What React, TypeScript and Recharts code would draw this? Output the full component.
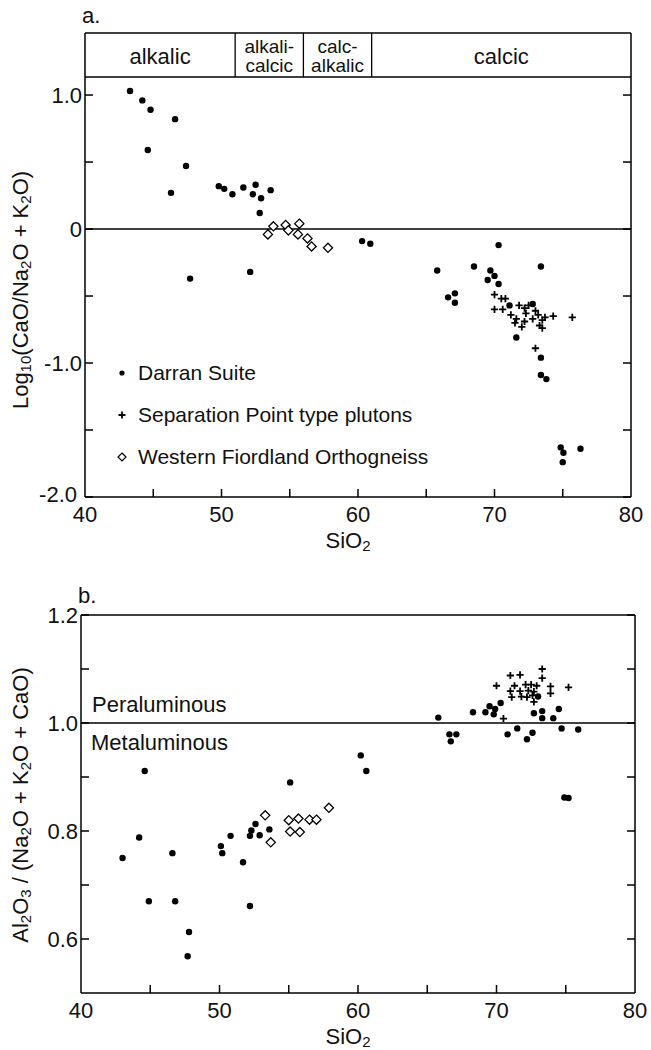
import React from 'react';
import { ScatterChart, Scatter, XAxis, YAxis, ReferenceLine, ReferenceArea, Legend } from 'recharts';

const FONT = '"Liberation Sans", Arial, Helvetica, sans-serif';

// panel a: SiO2 vs Log10(CaO/Na2O + K2O)
const darranA: [number, number][] = [
  [43.3, 1.03], [44.2, 0.96], [44.8, 0.89], [46.6, 0.82], [44.6, 0.59], [47.4, 0.47],
  [46.3, 0.27], [49.8, 0.32], [50.2, 0.3], [50.8, 0.26], [51.6, 0.31], [52.5, 0.33],
  [52.3, 0.26], [52.9, 0.23], [53.6, 0.29], [52.8, 0.12], [47.7, -0.37], [52.1, -0.32],
  [60.3, -0.09], [60.9, -0.11], [65.8, -0.31], [68.5, -0.28], [66.6, -0.51], [67.1, -0.48],
  [67.1, -0.55], [69.7, -0.31], [70.0, -0.35], [69.5, -0.38], [70.3, -0.41], [70.3, -0.12],
  [73.4, -0.28], [71.1, -0.57], [72.8, -0.56], [71.6, -0.81], [73.4, -0.96], [73.4, -1.09],
  [73.8, -1.12], [74.85, -1.63], [75.05, -1.67], [75.0, -1.74], [76.3, -1.64],
];
const sepPointA: [number, number][] = [
  [70.0, -0.49], [70.5, -0.52], [70.8, -0.52], [70.0, -0.6], [70.6, -0.6], [71.8, -0.57],
  [72.2, -0.59], [72.5, -0.57], [71.2, -0.64], [71.6, -0.67], [71.5, -0.7], [72.0, -0.73],
  [72.3, -0.63], [72.8, -0.67], [73.0, -0.61], [73.2, -0.64], [73.5, -0.68], [73.7, -0.66],
  [73.3, -0.72], [73.5, -0.74], [74.3, -0.65], [75.7, -0.66], [73.0, -0.89], [72.2, -0.69],
];
const wfoA: [number, number][] = [
  [53.4, -0.04], [53.8, 0.02], [54.7, 0.03], [54.9, -0.01], [55.7, 0.04], [55.6, -0.04],
  [56.3, -0.07], [56.6, -0.13], [57.8, -0.14],
];

// panel b: SiO2 vs Al2O3 / (Na2O + K2O + CaO)
const darranB: [number, number][] = [
  [44.6, 0.911], [43.0, 0.75], [44.2, 0.788], [44.9, 0.67], [46.6, 0.759], [46.8, 0.67],
  [47.8, 0.613], [47.7, 0.568], [50.1, 0.772], [50.2, 0.759], [50.8, 0.791], [51.7, 0.742],
  [52.2, 0.791], [52.3, 0.801], [52.6, 0.813], [52.9, 0.792], [53.6, 0.803], [52.2, 0.661],
  [55.1, 0.89], [60.2, 0.94], [60.6, 0.911], [65.8, 1.01], [66.6, 0.979], [67.1, 0.979],
  [66.7, 0.966], [68.3, 1.02], [69.2, 1.02], [69.5, 1.031], [69.8, 1.016], [69.9, 1.026],
  [70.3, 1.037], [72.7, 1.018], [73.3, 1.022], [73.3, 1.009], [74.1, 1.009], [74.5, 1.026],
  [73.0, 1.049], [70.8, 0.979], [71.5, 0.99], [72.2, 0.97], [72.6, 0.982], [74.7, 0.99],
  [75.9, 0.988], [74.9, 0.862], [75.2, 0.861],
];
const sepPointB: [number, number][] = [
  [73.3, 1.1], [73.3, 1.083], [71.0, 1.088], [71.7, 1.089], [70.0, 1.069], [71.3, 1.069],
  [71.0, 1.059], [71.1, 1.048], [71.7, 1.059], [71.8, 1.049], [72.1, 1.071], [72.3, 1.06],
  [72.5, 1.071], [72.2, 1.048], [72.6, 1.051], [72.9, 1.069], [72.7, 1.058], [72.7, 1.039],
  [73.9, 1.068], [73.9, 1.055], [75.2, 1.066], [70.5, 1.008],
];
const wfoB: [number, number][] = [
  [53.3, 0.829], [53.7, 0.779], [55.0, 0.82], [55.1, 0.799], [55.7, 0.823], [55.8, 0.798],
  [56.5, 0.821], [57.0, 0.821], [57.9, 0.843],
];

const xTicks = [40, 45, 50, 55, 60, 65, 70, 75, 80];
const xLabels = [40, 50, 60, 70, 80];
const yTicksA = [-2, -1.5, -1, -0.5, 0, 0.5, 1];
const yLabelsA = [-2, -1, 0, 1];
const yTicksB = [0.6, 0.7, 0.8, 0.9, 1.0, 1.1, 1.2];
const yLabelsB = [0.6, 0.8, 1.0, 1.2];

// Peacock alkali-lime index fields (SiO2 boundaries)
const peacockFields = [
  { lines: ['alkalic'], from: 40, to: 51 },
  { lines: ['alkali-', 'calcic'], from: 51, to: 56 },
  { lines: ['calc-', 'alkalic'], from: 56, to: 61 },
  { lines: ['calcic'], from: 61, to: 80 },
];
const boxBottom = 1.134;
const yTopA = 1.463;

// axis titles, "_" marks a subscript piece
const titleA = ['Log', '_10', '(CaO/Na', '_2', 'O + K', '_2', 'O)'];
const titleB = ['Al', '_2', 'O', '_3', ' / (Na', '_2', 'O + K', '_2', 'O + CaO)'];
const titleX = ['SiO', '_2'];

const toPts = (arr: [number, number][]) => arr.map(([x, y]) => ({ x, y }));

const Dot = (p: any) => <circle cx={p.cx} cy={p.cy} r={3.2} fill="#000" />;
const Plus = (p: any) => (
  <path d={`M${p.cx - 3.6},${p.cy}h7.2M${p.cx},${p.cy - 3.6}v7.2`} stroke="#000" strokeWidth={1.8} />
);
const Diamond = (p: any) => (
  <path d={`M${p.cx},${p.cy - 4.6}l4.6,4.6l-4.6,4.6l-4.6,-4.6z`} fill="#fff" stroke="#000" strokeWidth={1.3} />
);

const txt = { fontFamily: FONT, fontSize: 22, fill: '#111' };
const fmt = (v: number) => (v === 0 ? '0' : v.toFixed(1));
const has = (list: number[], v: number) => list.some((l) => Math.abs(l - v) < 1e-6);

// turns the pieces into tspans, lowering the subscripts and raising the text after them
const rich = (parts: string[]) => {
  let low = false;
  return parts.map((s, i) => {
    const isSub = s.startsWith('_');
    const dy = isSub && !low ? 5 : !isSub && low ? -5 : 0;
    low = isSub;
    return (
      <tspan key={i} dy={dy} fontSize={isSub ? 15 : undefined}>
        {isSub ? s.slice(1) : s}
      </tspan>
    );
  });
};

const leftTick = (labels: number[], bottom: number) => (p: any) => {
  const v = p.payload.value;
  // the lowest label sits a little up and left of the corner, clear of the x label
  const corner = Math.abs(v - bottom) < 1e-6;
  return (
    <g>
      <line x1={p.x} x2={p.x + 8} y1={p.y} y2={p.y} stroke="#000" strokeWidth={1.5} />
      {has(labels, v) && (
        <text
          x={p.x - (corner ? 8 : 3)} y={p.y - (corner ? 3 : 0)}
          textAnchor="end" dominantBaseline="central" {...txt}
        >
          {fmt(v)}
        </text>
      )}
    </g>
  );
};
const rightTick = (p: any) => (
  <line x1={p.x - 8} x2={p.x} y1={p.y} y2={p.y} stroke="#000" strokeWidth={1.5} />
);
const bottomTick = (p: any) => {
  const v = p.payload.value;
  return (
    <g>
      {!has([40, 80], v) && <line x1={p.x} x2={p.x} y1={p.y - 8} y2={p.y} stroke="#000" strokeWidth={1.5} />}
      {has(xLabels, v) && (
        <text x={p.x} y={p.y + 17} textAnchor="middle" dominantBaseline="central" {...txt}>
          {v}
        </text>
      )}
    </g>
  );
};
const topTick = (p: any) =>
  has([40, 80], p.payload.value) ? <g /> : (
    <line x1={p.x} x2={p.x} y1={p.y} y2={p.y + 8} stroke="#000" strokeWidth={1.5} />
  );

const xTitle = (p: any) => {
  const vb = p.viewBox;
  return (
    <text x={vb.x + vb.width / 2 - 10} y={vb.y + 43} textAnchor="middle" dominantBaseline="central" {...txt}>
      {rich(titleX)}
    </text>
  );
};

const yTitle = (parts: string[], dx: number, y: number) => (p: any) => {
  const x = p.viewBox.x + dx;
  return (
    <text x={x} y={y} transform={`rotate(-90 ${x} ${y})`} textAnchor="middle" dominantBaseline="central" {...txt}>
      {rich(parts)}
    </text>
  );
};

const catLabel = (lines: string[]) => (p: any) => {
  const vb = p.viewBox;
  const cx = vb.x + vb.width / 2;
  const cy = vb.y + vb.height / 2;
  if (lines.length === 1) {
    return (
      <text x={cx} y={cy + 1} textAnchor="middle" dominantBaseline="central" {...txt}>
        {lines[0]}
      </text>
    );
  }
  return (
    <text textAnchor="middle" dominantBaseline="central" {...txt} fontSize={19}>
      <tspan x={cx} y={cy - 9}>{lines[0]}</tspan>
      <tspan x={cx} y={cy + 10}>{lines[1]}</tspan>
    </text>
  );
};

const legendItems = [
  { name: 'Darran Suite', kind: 'dot' },
  { name: 'Separation Point type plutons', kind: 'plus' },
  { name: 'Western Fiordland Orthogneiss', kind: 'diamond' },
];

const LegendBox = () => (
  <div style={{ fontFamily: FONT, fontSize: 21, color: '#111' }}>
    {legendItems.map((it) => (
      <div key={it.name} style={{ height: 42, display: 'flex', alignItems: 'center' }}>
        <svg width={12} height={12} style={{ marginRight: 10 }}>
          {it.kind === 'dot' && <circle cx={6} cy={6} r={2.6} fill="#000" />}
          {it.kind === 'plus' && <path d="M2.5,6h7M6,2.5v7" stroke="#000" strokeWidth={1.8} />}
          {it.kind === 'diamond' && <path d="M6,2l4,4l-4,4l-4,-4z" fill="#fff" stroke="#000" strokeWidth={1.2} />}
        </svg>
        <span>{it.name}</span>
      </div>
    ))}
  </div>
);

const axisLine = { stroke: '#000', strokeWidth: 1.5 };

export default function App() {
  return (
    <div style={{ position: 'absolute', left: 0, top: 0, width: 651, height: 1050, background: '#fff' }}>
      <div style={{ position: 'absolute', left: 82, top: 3, fontFamily: FONT, fontSize: 22, color: '#111' }}>a.</div>
      <div style={{ position: 'absolute', left: 0, top: 0 }}>
        <ScatterChart width={651} height={560} margin={{ top: 33, right: 19, bottom: 33, left: 25 }}>
          <XAxis
            dataKey="x" type="number" domain={[40, 80]} ticks={xTicks} interval={0}
            height={30} tickSize={0} tickMargin={0} tickLine={false} tick={bottomTick}
            axisLine={axisLine} allowDataOverflow label={xTitle}
          />
          <YAxis
            dataKey="y" type="number" domain={[-2, yTopA]} ticks={yTicksA} interval={0}
            width={60} tickSize={0} tickMargin={0} tickLine={false} tick={leftTick(yLabelsA, -2)}
            axisLine={axisLine} allowDataOverflow label={yTitle(titleA, -5, 290)}
          />
          <YAxis
            yAxisId="r" orientation="right" type="number" domain={[-2, yTopA]} ticks={yTicksA} interval={0}
            width={1} tickSize={0} tickMargin={0} tickLine={false} tick={rightTick}
            axisLine={axisLine} allowDataOverflow
          />
          <ReferenceLine y={yTopA} stroke="#000" strokeWidth={1.5} />
          <ReferenceLine y={boxBottom} stroke="#000" strokeWidth={1.5} />
          <ReferenceLine y={0} stroke="#000" strokeWidth={1.5} />
          {peacockFields.slice(1).map((f) => (
            <ReferenceLine
              key={f.from}
              segment={[{ x: f.from, y: boxBottom }, { x: f.from, y: yTopA }]}
              stroke="#000" strokeWidth={1.3}
            />
          ))}
          {peacockFields.map((f) => (
            <ReferenceArea
              key={'a' + f.from}
              x1={f.from} x2={f.to} y1={boxBottom} y2={yTopA}
              fill="none" fillOpacity={0} stroke="none"
              label={catLabel(f.lines)}
            />
          ))}
          <Legend
            layout="vertical" align="center" verticalAlign="middle"
            wrapperStyle={{ left: 116, top: 352, width: 360 }}
            content={() => <LegendBox />}
          />
          <Scatter name="Darran Suite" data={toPts(darranA)} shape={Dot} isAnimationActive={false} />
          <Scatter name="Separation Point type plutons" data={toPts(sepPointA)} shape={Plus} isAnimationActive={false} />
          <Scatter name="Western Fiordland Orthogneiss" data={toPts(wfoA)} shape={Diamond} isAnimationActive={false} />
        </ScatterChart>
      </div>

      <div style={{ position: 'absolute', left: 78, top: 583, fontFamily: FONT, fontSize: 22, color: '#111' }}>b.</div>
      <div style={{ position: 'absolute', left: 0, top: 560 }}>
        <ScatterChart width={651} height={490} margin={{ top: 54, right: 15, bottom: 27, left: 21 }}>
          <XAxis
            dataKey="x" type="number" domain={[40, 80]} ticks={xTicks} interval={0}
            height={30} tickSize={0} tickMargin={0} tickLine={false} tick={bottomTick}
            axisLine={axisLine} allowDataOverflow label={xTitle}
          />
          <XAxis
            xAxisId="t" orientation="top" type="number" domain={[40, 80]} ticks={xTicks} interval={0}
            height={1} tickSize={0} tickMargin={0} tickLine={false} tick={topTick}
            axisLine={axisLine} allowDataOverflow
          />
          <YAxis
            dataKey="y" type="number" domain={[0.5, 1.2]} ticks={yTicksB} interval={0}
            width={60} tickSize={0} tickMargin={0} tickLine={false} tick={leftTick(yLabelsB, 0.5)}
            axisLine={axisLine} allowDataOverflow label={yTitle(titleB, -1, 245)}
          />
          <YAxis
            yAxisId="r" orientation="right" type="number" domain={[0.5, 1.2]} ticks={yTicksB} interval={0}
            width={1} tickSize={0} tickMargin={0} tickLine={false} tick={rightTick}
            axisLine={axisLine} allowDataOverflow
          />
          <ReferenceLine
            y={1.0} stroke="#000" strokeWidth={1.5}
            label={(p: any) => {
              const vb = p.viewBox;
              return (
                <g>
                  <text x={vb.x + 11} y={vb.y - 19} dominantBaseline="central" {...txt}>Peraluminous</text>
                  <text x={vb.x + 10} y={vb.y + 19} dominantBaseline="central" {...txt}>Metaluminous</text>
                </g>
              );
            }}
          />
          <Scatter data={toPts(darranB)} shape={Dot} isAnimationActive={false} />
          <Scatter data={toPts(sepPointB)} shape={Plus} isAnimationActive={false} />
          <Scatter data={toPts(wfoB)} shape={Diamond} isAnimationActive={false} />
        </ScatterChart>
      </div>
    </div>
  );
}
